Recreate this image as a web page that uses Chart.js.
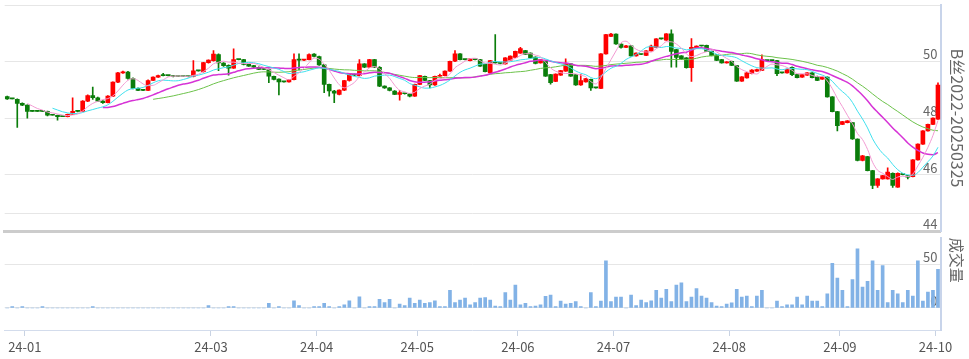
<!DOCTYPE html>
<html><head><meta charset="utf-8">
<script src="https://cdn.jsdelivr.net/npm/chart.js@4/dist/chart.umd.min.js"></script>
<style>
html,body{margin:0;padding:0;background:#fff;overflow:hidden;}
#wrap{position:relative;width:969px;height:359px;}
#p{position:absolute;left:0;top:0;width:969px;height:236px;}
#v{position:absolute;left:0;top:233px;width:969px;height:126px;}
</style></head><body>
<div id="wrap"><div id="p"><canvas id="cp" width="969" height="236"></canvas></div><div id="v"><canvas id="cv" width="969" height="126"></canvas></div></div>
<script>
// ---- categories: trading days ----
const dates = [
'2023-12-26','2023-12-27','2023-12-28','2023-12-29',
'2024-01-02','2024-01-03','2024-01-04','2024-01-05','2024-01-08','2024-01-09','2024-01-10','2024-01-11','2024-01-12','2024-01-15','2024-01-16','2024-01-17','2024-01-18','2024-01-19','2024-01-22','2024-01-23','2024-01-24','2024-01-25','2024-01-26','2024-01-29','2024-01-30','2024-01-31',
'2024-02-01','2024-02-02','2024-02-05','2024-02-06','2024-02-07','2024-02-08','2024-02-19','2024-02-20','2024-02-21','2024-02-22','2024-02-23','2024-02-26','2024-02-27','2024-02-28','2024-02-29',
'2024-03-01','2024-03-04','2024-03-05','2024-03-06','2024-03-07','2024-03-08','2024-03-11','2024-03-12','2024-03-13','2024-03-14','2024-03-15','2024-03-18','2024-03-19','2024-03-20','2024-03-21','2024-03-22','2024-03-25','2024-03-26','2024-03-27','2024-03-28','2024-03-29',
'2024-04-01','2024-04-02','2024-04-03','2024-04-08','2024-04-09','2024-04-10','2024-04-11','2024-04-12','2024-04-15','2024-04-16','2024-04-17','2024-04-18','2024-04-19','2024-04-22','2024-04-23','2024-04-24','2024-04-25','2024-04-26','2024-04-29','2024-04-30',
'2024-05-06','2024-05-07','2024-05-08','2024-05-09','2024-05-10','2024-05-13','2024-05-14','2024-05-15','2024-05-16','2024-05-17','2024-05-20','2024-05-21','2024-05-22','2024-05-23','2024-05-24','2024-05-27','2024-05-28','2024-05-29','2024-05-30','2024-05-31',
'2024-06-03','2024-06-04','2024-06-05','2024-06-06','2024-06-07','2024-06-11','2024-06-12','2024-06-13','2024-06-14','2024-06-17','2024-06-18','2024-06-19','2024-06-20','2024-06-21','2024-06-24','2024-06-25','2024-06-26','2024-06-27','2024-06-28',
'2024-07-01','2024-07-02','2024-07-03','2024-07-04','2024-07-05','2024-07-08','2024-07-09','2024-07-10','2024-07-11','2024-07-12','2024-07-15','2024-07-16','2024-07-17','2024-07-18','2024-07-19','2024-07-22','2024-07-23','2024-07-24','2024-07-25','2024-07-26','2024-07-29','2024-07-30','2024-07-31',
'2024-08-01','2024-08-02','2024-08-05','2024-08-06','2024-08-07','2024-08-08','2024-08-09','2024-08-12','2024-08-13','2024-08-14','2024-08-15','2024-08-16','2024-08-19','2024-08-20','2024-08-21','2024-08-22','2024-08-23','2024-08-26','2024-08-27','2024-08-28','2024-08-29','2024-08-30',
'2024-09-02','2024-09-03','2024-09-04','2024-09-05','2024-09-06','2024-09-09','2024-09-10','2024-09-11','2024-09-12','2024-09-13','2024-09-18','2024-09-19','2024-09-20','2024-09-23','2024-09-24','2024-09-25','2024-09-26','2024-09-27','2024-09-30',
'2024-10-08'
];

// ---- OHLC values ----
const open = [
48.76,48.68,48.66,48.52,
48.46,48.24,48.24,48.24,48.24,48.10,48.10,48.05,48.05,48.13,48.24,48.24,48.60,48.80,48.72,48.60,48.55,48.78,49.27,49.60,49.63,49.40,
49.05,48.98,48.98,49.33,49.45,49.50,49.50,49.50,49.47,49.47,49.47,49.47,49.67,49.64,49.96,
50.03,50.25,49.95,49.87,49.77,50.07,50.07,49.90,49.86,49.80,49.72,49.72,49.48,49.38,49.28,49.28,49.36,50.07,50.05,50.07,50.26,
50.18,49.88,49.19,48.96,48.84,48.99,49.33,49.55,49.50,49.92,49.80,50.07,49.80,49.13,49.07,48.96,48.84,48.87,48.86,48.78,
49.19,49.48,49.33,49.17,49.48,49.50,49.66,50.01,50.27,50.07,50.03,50.07,50.07,49.90,49.60,49.96,49.93,49.92,50.05,50.15,
50.30,50.39,50.30,50.16,49.95,50.03,49.54,49.30,49.52,49.66,49.92,49.54,49.17,49.28,49.37,49.07,49.05,50.27,50.89,
50.97,50.62,50.50,50.56,50.20,50.25,50.22,50.38,50.50,50.80,50.76,50.98,50.42,50.20,50.13,49.78,50.48,50.55,50.57,50.36,50.24,50.07,49.95,
50.01,49.86,49.31,49.42,49.57,49.66,49.69,50.03,50.03,50.03,49.60,49.60,49.80,49.54,49.45,49.52,49.60,49.48,49.38,49.45,48.75,48.23,
47.78,47.84,47.84,47.26,46.50,46.64,46.14,45.62,45.85,45.85,46.05,45.56,46.00,45.97,45.93,46.52,47.08,47.55,47.78,
47.96
];
const high = [
48.78,48.68,48.68,48.54,
48.47,48.24,48.24,48.24,48.25,48.10,48.11,48.05,48.14,48.72,48.26,48.62,48.82,49.10,48.74,48.62,48.80,49.28,49.62,49.66,49.65,49.42,
49.07,48.99,49.35,49.46,49.52,49.58,49.51,49.51,49.47,49.47,49.48,50.03,49.68,49.97,50.06,
50.39,50.27,49.96,49.88,50.45,50.08,50.08,49.91,49.87,49.81,49.73,49.73,49.49,49.39,49.29,49.37,50.27,50.27,50.07,50.27,50.28,
50.19,49.90,49.20,48.98,49.00,49.34,49.58,49.56,50.07,49.93,50.08,50.08,49.82,49.14,49.08,48.97,48.98,48.88,48.87,49.20,
49.51,49.49,49.34,49.49,49.56,49.67,50.02,50.39,50.28,50.08,50.11,50.08,50.08,49.91,50.04,50.95,49.94,50.14,50.20,50.37,
50.50,50.40,50.31,50.17,50.08,50.04,49.55,49.57,49.69,50.10,49.93,49.55,49.54,49.41,49.38,49.08,50.28,50.96,51.00,
50.98,50.63,50.57,50.57,50.31,50.26,50.39,50.58,50.81,50.81,50.99,51.12,50.43,50.21,50.14,50.81,50.56,50.57,50.58,50.37,50.25,50.08,50.00,
50.02,49.87,49.47,49.61,49.72,49.73,50.24,50.04,50.04,50.04,49.61,49.73,49.81,49.55,49.55,49.61,49.61,49.49,49.46,49.46,48.76,48.24,
47.89,47.91,47.85,47.27,46.68,46.65,46.15,45.86,45.98,46.24,46.06,46.06,46.01,45.98,46.53,47.09,47.56,47.79,48.01,
49.25
];
const low = [
48.66,48.68,47.67,48.44,
48.00,48.24,48.24,48.24,48.08,48.10,47.93,48.05,48.04,48.12,48.22,48.23,48.58,48.66,48.58,48.52,48.54,48.76,49.25,49.58,49.38,49.03,
48.97,48.97,48.97,49.32,49.44,49.49,49.49,49.46,49.47,49.47,49.46,49.46,49.66,49.62,49.94,
50.01,49.68,49.83,49.52,49.76,50.06,49.88,49.83,49.79,49.71,49.71,49.25,49.35,48.82,49.27,49.27,49.35,49.70,50.03,50.06,50.16,
49.86,48.90,48.78,48.55,48.82,48.97,49.31,49.50,49.48,49.78,49.79,49.78,49.11,49.05,48.96,48.83,48.63,48.85,48.75,48.77,
49.18,49.32,49.07,49.16,49.47,49.49,49.65,50.00,50.06,50.06,50.02,50.06,49.83,49.63,49.59,49.94,49.92,49.91,50.04,50.14,
50.29,50.24,50.12,49.92,49.94,49.47,49.20,49.29,49.51,49.65,49.47,49.16,49.16,49.27,48.98,49.06,49.04,50.26,50.88,
50.61,50.47,50.49,50.19,50.19,50.24,50.21,50.37,50.49,50.79,50.75,49.80,49.80,50.07,49.77,49.30,50.47,50.54,50.35,50.20,50.03,49.94,49.94,
49.85,49.30,49.30,49.41,49.56,49.65,49.68,50.02,50.02,49.50,49.59,49.59,49.50,49.42,49.44,49.51,49.42,49.32,49.37,48.74,48.22,47.55,
47.77,47.83,47.25,46.49,46.49,46.13,45.50,45.55,45.84,45.84,45.55,45.55,45.99,45.85,45.92,46.51,47.07,47.54,47.77,
47.95
];
const close = [
48.68,48.68,48.52,48.46,
48.24,48.24,48.24,48.24,48.10,48.10,48.05,48.05,48.13,48.24,48.24,48.60,48.80,48.72,48.60,48.55,48.78,49.27,49.60,49.63,49.40,49.05,
48.98,48.98,49.33,49.45,49.50,49.50,49.50,49.47,49.47,49.47,49.47,49.67,49.67,49.96,50.05,
50.26,49.95,49.85,49.77,50.07,50.07,49.90,49.84,49.80,49.72,49.72,49.48,49.37,49.28,49.28,49.36,50.07,50.05,50.06,50.25,50.18,
49.88,49.19,48.96,48.88,48.99,49.33,49.57,49.52,49.92,49.80,50.07,49.80,49.13,49.07,48.98,48.84,48.90,48.86,48.78,49.19,
49.50,49.33,49.17,49.48,49.50,49.66,50.01,50.27,50.07,50.07,50.10,50.07,49.84,49.64,50.03,49.95,49.93,50.13,50.19,50.36,
50.46,50.25,50.13,49.93,50.07,49.48,49.25,49.56,49.68,49.92,49.48,49.17,49.33,49.40,49.07,49.07,50.27,50.95,50.97,
50.62,50.50,50.56,50.20,50.30,50.25,50.38,50.55,50.80,50.80,50.98,50.36,50.15,50.08,49.78,50.50,50.55,50.55,50.36,50.21,50.04,49.95,49.99,
49.86,49.31,49.46,49.60,49.70,49.72,50.07,50.03,50.03,49.57,49.60,49.72,49.54,49.43,49.54,49.60,49.43,49.33,49.45,48.75,48.23,47.73,
47.88,47.90,47.26,46.50,46.67,46.14,45.62,45.85,45.97,46.09,45.62,46.05,46.00,45.91,46.52,47.08,47.55,47.78,48.00,
49.17
];
// ---- volume (成交量) ----
const volume = [
0,1.5,0,1.5,
0,0,0,1.5,0,0,0,0,0,0,0,0,0,1.5,0,0,0,0,0,0,0,0,
0,0,0,0,0,0,0,0,0,0,0,0,0,0,2.6,
0,0,0,1.5,1.5,0,0,0,0,0,0,5.2,0,1.5,0,0,8.2,2.6,0,0,1.5,
1.5,5.2,1.5,0,1.5,3.7,8.2,0,12.7,0,1.5,1.5,10,6.3,10,0,4.5,2.6,11.2,5.2,
9.0,5.2,6.3,8.2,1.5,1.5,20.1,6.3,9.0,11.2,3.7,6.3,11.2,11.9,9.0,2.2,1.5,17.5,9.0,26.1,
3.7,5.2,1.5,2.2,3.7,13.4,14.9,1.5,7.8,4.5,5.2,7.4,1.5,0,17.5,1.5,7.8,54.0,7.4,
12.6,12.6,0,14.9,2.6,9.0,6.3,8.2,20.1,11.2,21.2,7.4,26.1,28.7,7.4,12.6,22.3,13.7,11.2,6.3,2.2,1.5,4.5,
5.9,21.2,12.6,13.7,1.5,13.7,20.1,0,0,7.8,1.5,3.7,3.7,12.6,3.7,13.7,7.8,7.8,1.5,16.3,51.0,34.3,
20.1,1.5,32.4,67.8,23.8,30.5,54.0,20.1,48.4,6.3,20.1,16.3,6.3,20.1,13.7,54.0,7.8,18.2,20.1,
44.3
];
// ---- tick labels ----
const monthTicks = ['24-01','24-03','24-04','24-05','24-06','24-07','24-08','24-09','24-10'];
const priceTicks = [44, 44.62, 46, 48, 50, 52];
const priceLabels = [44, 46, 48, 50];
const volumeTicks = [0, 50];
const maPeriods = [5, 10, 20, 30];

// moving averages of the close series
function movingAverage(values, n) {
  return values.map((_, i) => {
    if (i < n - 1) return null;
    let s = 0;
    for (let k = i - n + 1; k <= i; k++) s += values[k];
    return s / n;
  });
}

const FAMILY = "'Noto Sans CJK SC','Noto Sans',sans-serif";
const UP = '#ff0000', DOWN = '#0a7d0a';
const candleColor = close.map((c, i) => c > open[i] ? UP : DOWN);
const maColors = ['#f29ad2', '#3fe0ee', '#d633d6', '#6cc24a'];
const maWidths = [1, 1, 1.5, 1];

function monthLabel(i) {
  const d = dates[i];
  if (i > 0 && dates[i - 1].slice(0, 7) === d.slice(0, 7)) return '';
  const m = d.slice(2, 7);
  return monthTicks.includes(m) ? m : '';
}

const maSets = maPeriods.map((p, k) => ({
  type: 'line', label: 'MA' + p, data: movingAverage(close, p),
  borderColor: maColors[k], borderWidth: maWidths[k], pointRadius: 0,
  cubicInterpolationMode: 'monotone', order: 0, spanGaps: false
}));

new Chart(document.getElementById('cp'), {
  type: 'bar',
  data: {
    labels: dates,
    datasets: [
      ...maSets,
      { label: 'body', data: open.map((o, i) => [o, close[i]]), backgroundColor: candleColor,
        barThickness: 4, minBarLength: 1, grouped: false, order: 1 },
      { label: 'wick', data: low.map((l, i) => [l, high[i]]), backgroundColor: candleColor,
        barThickness: 1, grouped: false, order: 2 }
    ]
  },
  options: {
    responsive: false, animation: false, devicePixelRatio: 1,
    layout: { padding: { left: 4.7, right: 0, top: 5, bottom: 3.2 } },
    plugins: { legend: { display: false }, tooltip: { enabled: false } },
    scales: {
      x: {
        offset: true, grid: { display: false }, ticks: { display: false },
        border: { display: true, color: '#cccccc', width: 3 },
        afterFit: s => { s.height = 0; }
      },
      y: {
        position: 'right', min: 44, max: 52,
        afterBuildTicks: s => { s.ticks = priceTicks.map(v => ({ value: v })); },
        afterFit: s => { s.width = 28.5; },
        grid: { color: '#e6e6e6', drawTicks: false },
        border: { display: true, color: '#c8d4ea', width: 2 },
        ticks: { mirror: true, padding: -3, labelOffset: -7, color: '#666',
          font: { size: 13, family: FAMILY },
          callback: v => priceLabels.includes(v) ? String(v) : '' },
        title: { display: true, text: 'B丝2022-20250325', color: '#666',
          font: { size: 16, family: FAMILY, lineHeight: 1.2 }, padding: { top: 2.4, bottom: 0 } }
      }
    }
  }
});

new Chart(document.getElementById('cv'), {
  type: 'bar',
  data: { labels: dates, datasets: [{ label: '成交量', data: volume, backgroundColor: '#82b2e6', barThickness: 3 }] },
  options: {
    responsive: false, animation: false, devicePixelRatio: 1,
    layout: { padding: { left: 4.7, right: 0, top: 2, bottom: 0 } },
    plugins: { legend: { display: false }, tooltip: { enabled: false } },
    scales: {
      x: {
        offset: true,
        afterFit: s => { s.height = 29; },
        border: { display: true, color: '#d3dcec', width: 1 },
        grid: { display: true, drawOnChartArea: false, drawTicks: true, tickLength: 6,
          color: ctx => (ctx.index !== undefined && ctx.index < dates.length && monthLabel(ctx.index)) ? '#c9d3e3' : 'rgba(0,0,0,0)' },
        ticks: { autoSkip: false, maxRotation: 0, minRotation: 0, padding: 3, labelOffset: -2.5,
          color: '#555', font: { size: 13, family: FAMILY },
          callback: (v, i) => monthLabel(i) }
      },
      y: {
        position: 'right', min: -25.2, max: 80.3, z: 1,
        afterBuildTicks: s => { s.ticks = volumeTicks.map(v => ({ value: v })); },
        afterFit: s => { s.width = 28.5; },
        grid: { color: '#e6e6e6', drawTicks: false },
        border: { display: true, color: '#c8d4ea', width: 2 },
        ticks: { mirror: true, padding: -3, labelOffset: -7, color: '#666',
          font: { size: 13, family: FAMILY } },
        title: { display: true, text: '成交量', align: 'end', color: '#666',
          font: { size: 15, family: FAMILY, lineHeight: 1.2 }, padding: { top: 3, bottom: 0 } }
      }
    }
  }
});
</script></body></html>
